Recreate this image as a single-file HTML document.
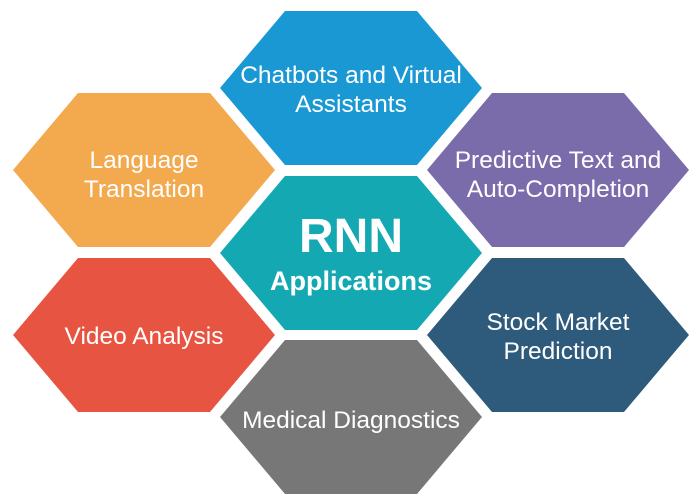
<!DOCTYPE html>
<html><head><meta charset="utf-8"><style>
html,body{margin:0;padding:0;background:#fff;}
svg{display:block;}
text{font-family:"Liberation Sans",Arial,sans-serif;fill:#fff;text-anchor:middle;}
</style></head><body>
<svg width="700" height="503" viewBox="0 0 700 503" xmlns="http://www.w3.org/2000/svg">
<defs>
<polygon id="h" points="-131,0 -66,-77 66,-77 131,0 66,77 -66,77"/>
</defs>
<use href="#h" x="351" y="88" fill="#1a98d3"/>
<use href="#h" x="351" y="253" fill="#13a8b2"/>
<use href="#h" x="351" y="417" fill="#777777"/>
<use href="#h" x="144" y="170" fill="#f3a94d"/>
<use href="#h" x="144" y="335" fill="#e85442"/>
<use href="#h" x="558" y="170" fill="#7a6bab"/>
<use href="#h" x="558" y="335" fill="#2e5b7c"/>

<text x="351" y="83" font-size="24.5">Chatbots and Virtual</text>
<text x="351" y="112" font-size="24.5">Assistants</text>
<text x="144" y="168" font-size="24.5">Language</text>
<text x="144" y="197" font-size="24.5">Translation</text>
<text x="558" y="168" font-size="24.5">Predictive Text and</text>
<text x="558" y="197" font-size="24.5">Auto-Completion</text>
<text x="351" y="252" font-size="48" font-weight="bold">RNN</text>
<text x="351" y="290" font-size="27" font-weight="bold">Applications</text>
<text x="144" y="344" font-size="24.5">Video Analysis</text>
<text x="558" y="330" font-size="24.5">Stock Market</text>
<text x="558" y="359" font-size="24.5">Prediction</text>
<text x="351" y="428" font-size="24.5">Medical Diagnostics</text>
</svg>
</body></html>
